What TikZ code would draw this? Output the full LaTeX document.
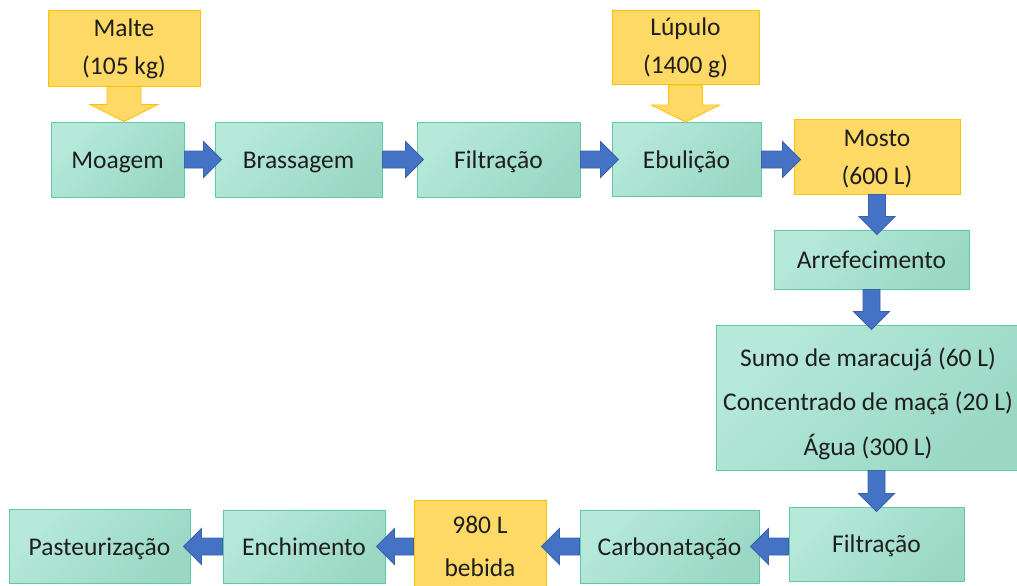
\documentclass[tikz,border=0pt]{standalone}
\usepackage{fontspec}
\setmainfont{Carlito}
\usetikzlibrary{positioning, calc}

\definecolor{procfill}{HTML}{B6E9DA}
\definecolor{procdark}{HTML}{9AD8C4}
\definecolor{procline}{HTML}{5FC9A8}
\definecolor{feedfill}{HTML}{FFD966}
\definecolor{feedline}{HTML}{FFC000}
\definecolor{flowfill}{HTML}{4472C4}
\definecolor{flowline}{HTML}{3A62AC}
\definecolor{txt}{HTML}{1E1E1E}

% invisible strut that pushes the first text line down
\newcommand{\firstline}[1]{\rule{0pt}{#1}}

\begin{document}
\begin{tikzpicture}[
        every node/.style={inner sep=0pt, align=center, text=txt, font=\fontsize{25.5}{38}\selectfont, line width=1pt},
        proc/.style={draw=procline, top color=procfill, bottom color=procdark, shading angle=45,
                     execute at begin node={\rule[-7pt]{0pt}{31pt}}},
        feed/.style={draw=feedline, fill=feedfill},
        blockarrow/.style n args={4}{line width=0.8pt, to path={
            let \p1=(\tikztostart), \p2=(\tikztotarget),
                \n1={atan2(\y2-\y1,\x2-\x1)},
                \p3=($(\p2)+(\n1:#4)$), \p4=($(\p3)+(\n1+180:#3)$) in
            ($(\p1)+(\n1+90:#1)$) -- ($(\p4)+(\n1+90:#1)$) -- ($(\p4)+(\n1+90:#2)$) -- (\p3)
            -- ($(\p4)+(\n1-90:#2)$) -- ($(\p4)+(\n1-90:#1)$) -- ($(\p1)+(\n1-90:#1)$) -- cycle}},
        flow/.style={blockarrow={8.5pt}{18pt}{18pt}{#1}, draw=flowline, fill=flowfill},
        flow/.default=7pt,
        intake/.style={blockarrow={17pt}{34pt}{17pt}{0pt}, draw=feedline, fill=feedfill}
    ]

    \useasboundingbox (0,0) rectangle (1017pt,-586pt);

    % Top row
    \node[proc, minimum width=133pt, minimum height=75pt] (moagem) at (117.5pt,-159.5pt) {Moagem};
    \node[proc, minimum width=167pt, minimum height=75pt, right=30pt of moagem] (brassagem) {Brassagem};
    \node[proc, minimum width=163pt, minimum height=75pt, right=34pt of brassagem] (filtracao1) {Filtração};
    \node[proc, minimum width=149pt, minimum height=74pt, right=31pt of filtracao1] (ebulicao) {Ebulição};
    \node[feed, minimum width=166pt, minimum height=75pt, right=32pt of ebulicao, yshift=3pt] (mosto) {\firstline{21pt}Mosto\\(600 L)};

    % Inputs
    \node[feed, minimum width=152pt, minimum height=75pt, above=35pt of moagem, xshift=6.5pt] (malte) {Malte\\(105 kg)};
    \node[feed, minimum width=147pt, minimum height=74pt, above=37pt of ebulicao, xshift=-1pt] (lupulo) {Lúpulo\\(1400 g)};

    % Right column
    \node[proc, minimum width=195pt, minimum height=59pt, below=35pt of mosto, xshift=-5.5pt] (arrefecimento) {Arrefecimento};
    \node[proc, minimum width=304pt, minimum height=145pt, below=35pt of arrefecimento, xshift=-3.5pt,
          font=\fontsize{25.5}{44.5}\selectfont] (mistura) {\firstline{33pt}Sumo de maracujá (60 L)\\Concentrado de maçã (20 L)\\Água (300 L)};
    \node[proc, minimum width=175pt, minimum height=74pt, below=36pt of mistura, xshift=8.5pt] (filtracao2) {Filtração};

    % Bottom row
    \node[proc, minimum width=179pt, minimum height=73pt, left=29pt of filtracao2, yshift=-2.5pt] (carbonatacao) {Carbonatação};
    \node[feed, minimum width=132pt, minimum height=93pt, left=33pt of carbonatacao,
          font=\fontsize{25.5}{43}\selectfont] (bebida) {980 L\\bebida};
    \node[proc, minimum width=162pt, minimum height=73pt, left=28pt of bebida] (enchimento) {Enchimento};
    \node[proc, minimum width=181pt, minimum height=74pt, left=32pt of enchimento] (pasteurizacao) {Pasteurização};

    % Block arrows
    \draw[intake] (malte.south) to (malte.south |- moagem.north);
    \draw[intake] (lupulo.south) to (lupulo.south |- ebulicao.north);

    \draw[flow] (moagem.east) to (brassagem.west);
    \draw[flow] (brassagem.east) to (filtracao1.west);
    \draw[flow] (filtracao1.east) to (ebulicao.west);
    \draw[flow] (ebulicao.east) to (ebulicao.east -| mosto.west);
    \draw[flow=5pt] (mosto.south) to (mosto.south |- arrefecimento.north);
    \draw[flow=5pt] (arrefecimento.south) to (arrefecimento.south |- mistura.north);
    \draw[flow=5pt] (filtracao2.north |- mistura.south) to (filtracao2.north);
    \draw[flow=9pt] (filtracao2.west |- carbonatacao.east) to (carbonatacao.east);
    \draw[flow=5pt] (carbonatacao.west) to (bebida.east);
    \draw[flow=9pt] (bebida.west) to (enchimento.east);
    \draw[flow] (enchimento.west) to (pasteurizacao.east);

\end{tikzpicture}
\end{document}
